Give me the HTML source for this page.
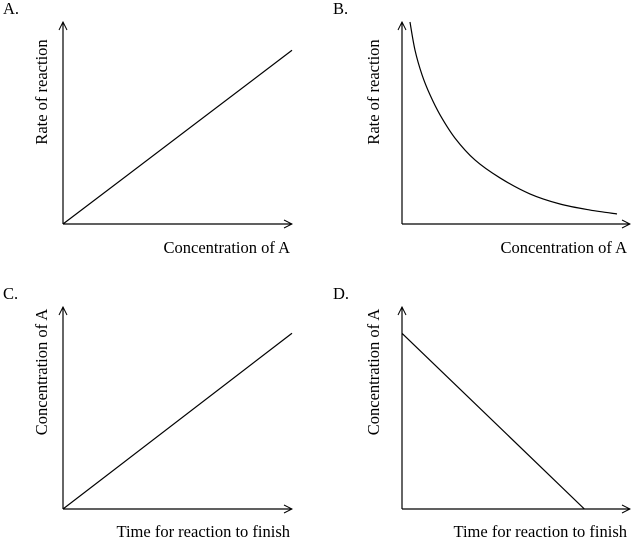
<!DOCTYPE html>
<html><head><meta charset="utf-8"><style>
body{margin:0;background:#fff}
svg{display:block}
text{font-family:"Liberation Serif",serif;font-size:16.5px;fill:#000}
</style></head><body>
<svg width="632" height="540">
<defs><marker id="ar" markerWidth="10" markerHeight="10" refX="9" refY="5" orient="auto" markerUnits="userSpaceOnUse"><path d="M1,1 L9,5 L1,9" fill="none" stroke="#000" stroke-width="1"/></marker></defs>
<g id="g" stroke="#000" stroke-width="1.2" fill="none"></g>
<text x="3" y="14">A.</text>
<text x="333" y="14">B.</text>
<text x="3" y="299">C.</text>
<text x="333" y="299">D.</text>
<text transform="translate(47,92) rotate(-90)" text-anchor="middle">Rate of reaction</text>
<text transform="translate(379,92) rotate(-90)" text-anchor="middle">Rate of reaction</text>
<text transform="translate(47,372) rotate(-90)" text-anchor="middle">Concentration of A</text>
<text transform="translate(379,372) rotate(-90)" text-anchor="middle">Concentration of A</text>
<text x="290" y="253" text-anchor="end">Concentration of A</text>
<text x="627" y="253" text-anchor="end">Concentration of A</text>
<text x="290" y="537" text-anchor="end">Time for reaction to finish</text>
<text x="627" y="537" text-anchor="end">Time for reaction to finish</text>
</svg>
<script>
// panel data (x,y in 0..1 units of each panel's axis frame)
const lineA=[[0,0],[1,0.86]];
const curveBx=[0.035,0.057,0.088,0.123,0.167,0.232,0.32,0.43,0.561,0.693,0.825,0.943];
const curveBy=[1.0,0.861,0.738,0.639,0.54,0.426,0.317,0.228,0.149,0.099,0.069,0.05];
const lineC=[[0,0],[1,0.87]];
const lineD=[[0,0.87],[0.8,0]];
const panels=[{x0:63,y0:224,w:229,h:202},{x0:402,y0:224,w:228,h:202},{x0:63,y0:509,w:229,h:202},{x0:402,y0:509,w:228,h:202}];
const g=document.getElementById('g');
const NS='http://www.w3.org/2000/svg';
function sx(p,v){return p.x0+v*p.w;}
function sy(p,v){return p.y0-v*p.h;}
function mk(tag,a){const e=document.createElementNS(NS,tag);for(const k in a)e.setAttribute(k,a[k]);g.appendChild(e);return e;}
panels.forEach((p,i)=>{
  const ya=mk('line',{x1:p.x0,y1:p.y0,x2:p.x0,y2:p.y0-p.h,'marker-end':'url(#ar)'});
  
  
  const xa=mk('line',{x1:p.x0,y1:p.y0,x2:p.x0+p.w,y2:p.y0,'marker-end':'url(#ar)'});
  
  
});
function poly(p,pts,name){
  const e=mk('polyline',{points:pts.map(q=>sx(p,q[0])+','+sy(p,q[1])).join(' ')});
  
  
}
poly(panels[0],lineA,'series-line-a');
poly(panels[2],lineC,'series-line-c');
poly(panels[3],lineD,'series-line-d');
{
  const p=panels[1];
  const pts=curveBx.map((x,i)=>[sx(p,x),sy(p,curveBy[i])]);
  let d='M'+pts[0].join(',');
  for(let i=0;i<pts.length-1;i++){
    const p0=pts[Math.max(0,i-1)],p1=pts[i],p2=pts[i+1],p3=pts[Math.min(pts.length-1,i+2)];
    const c1=[p1[0]+(p2[0]-p0[0])/6,p1[1]+(p2[1]-p0[1])/6];
    const c2=[p2[0]-(p3[0]-p1[0])/6,p2[1]-(p3[1]-p1[1])/6];
    d+=' C'+c1.join(',')+' '+c2.join(',')+' '+p2.join(',');
  }
  const e=mk('path',{d:d});
  
  
}
</script>
</body></html>
